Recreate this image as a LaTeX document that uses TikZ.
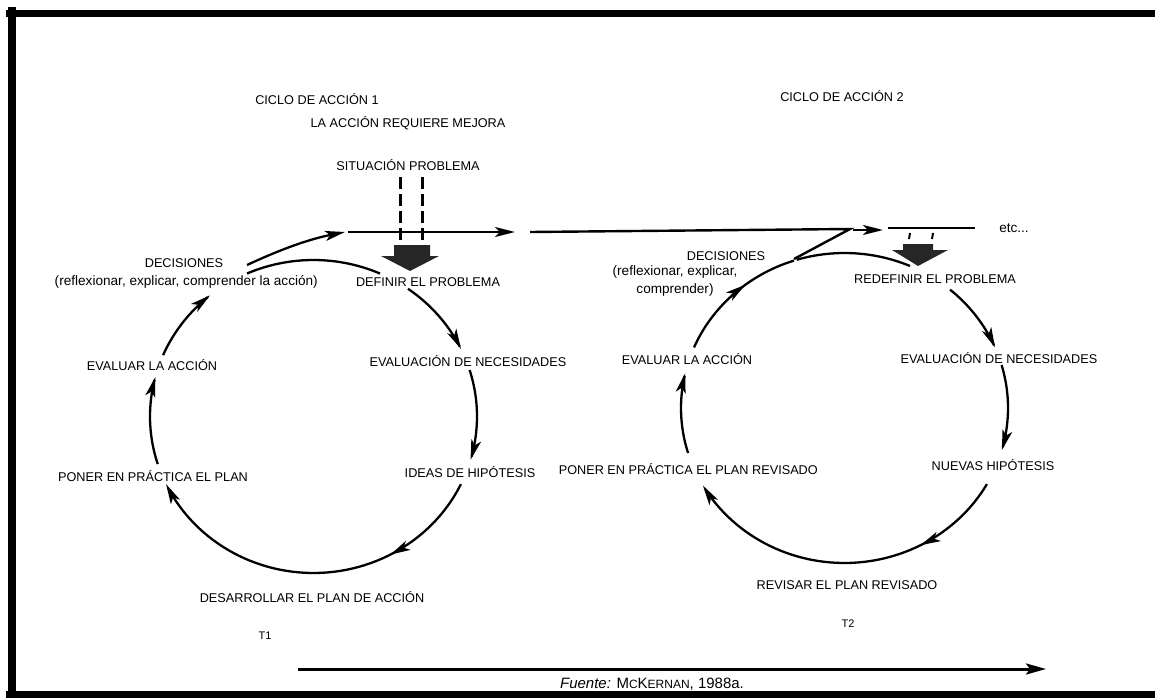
\documentclass[tikz,border=0pt]{standalone}
\usepackage{fontspec}
\setmainfont{Liberation Sans}
\usetikzlibrary{arrows.meta,decorations.markings}
\begin{document}
\begin{tikzpicture}[x=1pt,y=-1pt,
  lbl/.style={font=\fontsize{12.7}{14}\selectfont, inner sep=0pt, anchor=center},
  lowlbl/.style={font=\fontsize{13.6}{15}\selectfont, inner sep=0pt, anchor=center},
  sml/.style={font=\fontsize{11}{12}\selectfont, inner sep=0pt, anchor=center},
  arcline/.style={line width=2.3pt},
  tipend/.style={-{Stealth[length=20pt,width=10pt,inset=5pt]}},
  arrowat/.style={postaction={decorate},decoration={markings,mark=at position #1 with {\arrow{Stealth[length=20pt,width=10pt,inset=5pt]}}}},
  blockarrow/.style={fill=black!85},
  dashline/.style={line width=3pt,dash pattern=on 12pt off 5pt},
]
\useasboundingbox (0,0) rectangle (1155,698);
% frame
\fill (6,10) rectangle (1155,17);
\fill (8,7) rectangle (16,698);
\fill (6,691) rectangle (1155,698);

% ---------- texts ----------
\node[lbl] (c1) at (317,99) {CICLO DE ACCIÓN 1};
\node[lbl] (req) at (408,123) {LA ACCIÓN REQUIERE MEJORA};
\node[lbl] (sit) at (408,165) {SITUACIÓN PROBLEMA};
\node[lbl] (dec1) at (184,263) {DECISIONES};
\node[lowlbl, anchor=east] (dec1b) at (318,282) {(reflexionar, explicar, comprender la acción)};
\node[lbl] (def1) at (428,282) {DEFINIR EL PROBLEMA};
\node[lbl] (ev1) at (152,365) {EVALUAR LA ACCIÓN};
\node[lbl] (nec1) at (468,361) {EVALUACIÓN DE NECESIDADES};
\node[lbl] (pon1) at (153,476) {PONER EN PRÁCTICA EL PLAN};
\node[lbl] (hip1) at (470,472) {IDEAS DE HIPÓTESIS};
\node[lbl] (des1) at (312,597) {DESARROLLAR EL PLAN DE ACCIÓN};
\node[sml] (t1) at (265,636) {T1};

\node[lbl] (c2) at (842,96) {CICLO DE ACCIÓN 2};
\node[lbl] (dec2) at (726,256) {DECISIONES};
\node[lowlbl] (dec2b) at (675,272) {(reflexionar, explicar,};
\node[lowlbl] (dec2c) at (675,290) {comprender)};
\node[lbl] (def2) at (935,279) {REDEFINIR EL PROBLEMA};
\node[lbl] (ev2) at (687,359) {EVALUAR LA ACCIÓN};
\node[lbl] (nec2) at (999,358) {EVALUACIÓN DE NECESIDADES};
\node[lbl, anchor=east] (pon2) at (818,469) {PONER EN PRÁCTICA EL PLAN REVISADO};
\node[lbl] (hip2) at (993,465) {NUEVAS HIPÓTESIS};
\node[lbl] (rev2) at (847,585) {REVISAR EL PLAN REVISADO};
\node[sml] (t2) at (848,624) {T2};
\node[lowlbl] (etc) at (1014,228) {etc...};

\node[font=\fontsize{15}{16}\selectfont, inner sep=0pt] (src) at (652,684)
  {\textit{Fuente:} M{\fontsize{12}{13}\selectfont C}K{\fontsize{12}{13}\selectfont ERNAN}, 1988a.};

% ---------- cycle 1 (center 313.5,416.5; rx 163.5, ry 156.5) ----------
\draw[arcline] plot[domain=114:66,samples=30] ({313.5+163.5*cos(\x)},{416.5-156.5*sin(\x)});
\draw[arcline,tipend] plot[domain=54.7:25.6,samples=30] ({313.5+163.5*cos(\x)},{416.5-156.5*sin(\x)});
\draw[arcline,tipend] plot[domain=17.3:-16,samples=30] ({313.5+163.5*cos(\x)},{416.5-156.5*sin(\x)});
\draw[arcline,tipend,arrowat=0.28] plot[domain=-25.6:-154.4,samples=60] ({313.5+163.5*cos(\x)},{416.5-156.5*sin(\x)});
\draw[arcline,tipend] plot[domain=197.7:165.4,samples=30] ({313.5+163.5*cos(\x)},{416.5-156.5*sin(\x)});
\draw[arcline,tipend] plot[domain=156.9:129.3,samples=30] ({313.5+163.5*cos(\x)},{416.5-156.5*sin(\x)});

% branch to the time line
\coordinate (b0) at (247,265);
\coordinate (b1) at (345,232);
\draw[arcline,tipend] (b0) .. controls (275,252) and (305,240) .. (b1);
\coordinate (h0) at (348,232);
\coordinate (h1) at (515,232);
\draw[line width=2.4pt,tipend] (h0) -- (h1);
\coordinate (h2) at (530,232);
\coordinate (z1) at (850,229);
\coordinate (z2) at (794,259);
\draw[line width=2.4pt,line join=miter] (h2) -- (z1) -- (z2);

% dashed lines and block arrow 1
\draw[dashline] (400,177) -- (400,246);
\draw[dashline] (422,177) -- (422,246);
\fill[blockarrow] (394,245) -- (430,245) -- (430,256) -- (439,256) -- (410,271) -- (381,256) -- (394,256) -- cycle;

% ---------- cycle 2 (center 844.5,408; rx 163.5, ry 155) ----------
\draw[arcline] plot[domain=107:66.4,samples=30] ({844.5+163.5*cos(\x)},{408-155*sin(\x)});
\draw[arcline,tipend] plot[domain=49.8:23,samples=30] ({844.5+163.5*cos(\x)},{408-155*sin(\x)});
\draw[arcline,tipend] plot[domain=16.1:-15.7,samples=30] ({844.5+163.5*cos(\x)},{408-155*sin(\x)});
\draw[arcline,tipend,arrowat=0.27] plot[domain=-29.4:-150,samples=60] ({844.5+163.5*cos(\x)},{408-155*sin(\x)});
\draw[arcline,tipend] plot[domain=196.9:167,samples=30] ({844.5+163.5*cos(\x)},{408-155*sin(\x)});
\draw[arcline,arrowat=0.6] plot[domain=157:108,samples=40] ({844.5+163.5*cos(\x)},{408-155*sin(\x)});

% second part of the time line
\coordinate (k0) at (853,230);
\coordinate (k1) at (883,230);
\draw[line width=2.4pt,tipend] (k0) -- (k1);
\coordinate (m0) at (888,228);
\coordinate (m1) at (975,228);
\draw[line width=2.4pt] (m0) -- (m1);
\draw[line width=2pt] (910,233) -- (909,239);
\draw[line width=2pt] (933,233) -- (932,239);
\fill[blockarrow] (903,244) -- (933,244) -- (933,250) -- (948,250) -- (918,266) -- (892,250) -- (903,250) -- cycle;

% time axis
\coordinate (ta) at (298,669);
\coordinate (tb) at (1046,669);
\draw[line width=3pt,-{Stealth[length=20pt,width=11pt,inset=4pt]}] (ta) -- (tb);
\end{tikzpicture}
\end{document}
